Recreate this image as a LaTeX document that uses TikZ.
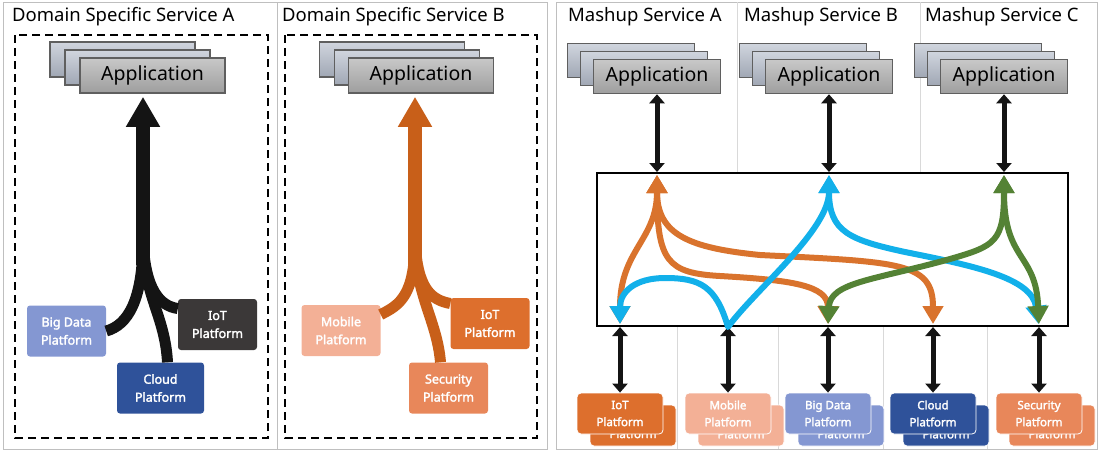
\documentclass[tikz,border=0pt]{standalone}
\usepackage{fontspec}
\setmainfont{Noto Sans}
\newfontfamily\platfont{Noto Sans}[FakeBold=2.2]
\usetikzlibrary{arrows.meta}
\usetikzlibrary{calc}
\definecolor{panelgray}{RGB}{191,191,191}
\definecolor{divgray}{RGB}{217,217,217}
\definecolor{appfronttop}{RGB}{200,200,200}
\definecolor{appfrontbot}{RGB}{158,158,158}
\definecolor{appbacktop}{RGB}{208,213,222}
\definecolor{appbackbot}{RGB}{160,167,180}
\definecolor{appedge}{RGB}{95,95,95}
\definecolor{bigdata}{RGB}{132,151,210}
\definecolor{iotdark}{RGB}{59,56,56}
\definecolor{cloud}{RGB}{47,82,154}
\definecolor{mobile}{RGB}{243,176,150}
\definecolor{iotorange}{RGB}{221,111,45}
\definecolor{security}{RGB}{232,135,90}
\definecolor{flowblack}{RGB}{20,20,20}
\definecolor{floworange}{RGB}{200,95,25}
\definecolor{lineorange}{RGB}{217,115,45}
\definecolor{lineblue}{RGB}{18,176,234}
\definecolor{linegreen}{RGB}{84,130,53}
\tikzstyle{panel} = [draw=panelgray, line width=1pt]
\tikzstyle{divider} = [draw=divgray, line width=1pt]
\tikzstyle{dashbox} = [draw=black, line width=2pt, dash pattern=on 8pt off 5pt]
\tikzstyle{heading} = [anchor=west, inner sep=1pt, font=\fontsize{18.5}{20}\selectfont]
\tikzstyle{appback} = [rectangle, minimum width=145pt, minimum height=35pt, inner sep=0pt, draw=appedge, line width=1.5pt, top color=appbacktop, bottom color=appbackbot]
\tikzstyle{appfront} = [appback, top color=appfronttop, bottom color=appfrontbot, font=\fontsize{19.5}{22}\selectfont]
\tikzstyle{platform} = [rectangle, rounded corners=3pt, minimum width=79pt, minimum height=51pt, inner sep=0pt, text=white, align=center, font=\platfont\fontsize{12.5}{18}\selectfont]
\tikzstyle{tile} = [platform, minimum width=86pt, minimum height=41pt, rounded corners=4pt, draw=white, line width=0.8pt, font=\platfont\fontsize{11.5}{17}\selectfont]
\tikzstyle{hub} = [rectangle, draw=black, line width=2pt, minimum width=471pt, minimum height=153pt, inner sep=0pt]
\tikzstyle{branch} = [line width=11pt]
\tikzstyle{trunk} = [line width=14pt, >={Triangle[length=30pt,width=32pt]}, ->, shorten >=3pt]
\tikzstyle{link} = [line width=5pt, flowblack, >={Triangle[length=9pt,width=15pt]}, <->]
\tikzstyle{route} = [line width=6pt, line join=round, >={Triangle[length=18pt,width=20pt]}, <->, shorten <=3pt, shorten >=3pt]

\begin{document}
\begin{tikzpicture}[x=1pt,y=-1pt]
\useasboundingbox (0,0) rectangle (1100,451);
\draw [panel] (3,2) rectangle (277,449);
\draw [panel] (277,2) rectangle (547,449);
\draw [panel] (556,2) rectangle (1097,449);
\draw [divider] (737,2) -- (737,173);
\draw [divider] (920,2) -- (920,173);
\draw [divider] (677,326) -- (677,449);
\draw [divider] (778,326) -- (778,449);
\draw [divider] (883,326) -- (883,449);
\draw [divider] (987,326) -- (987,449);
\draw [dashbox] (15,35) rectangle (268,438);
\draw [dashbox] (285,35) rectangle (537,438);

\node (titleA) [heading] at (11,17) {Domain Specific Service A};
\node (titleB) [heading] at (281,17) {Domain Specific Service B};
\node (titleMA) [heading] at (567,17) {Mashup Service A};
\node (titleMB) [heading] at (743,17) {Mashup Service B};
\node (titleMC) [heading] at (924,17) {Mashup Service C};

\node (appA3) [appback] at (122.5,59.5) {};
\node (appA2) [appback] at (137.5,67.5) {};
\node (appA1) [appfront] at (152.5,75.5) {Application};
\node (bigA) [platform, fill=bigdata] at (66.5,331) {Big Data\\Platform};
\node (iotA) [platform, fill=iotdark] at (217.5,324.5) {IoT\\Platform};
\node (cloudA) [platform, fill=cloud, minimum width=87pt] at (160.5,388) {Cloud\\Platform};
\coordinate (splitA) at (143,240);
\draw [branch, flowblack] (bigA.east) .. controls (128,325) and (143,300) .. (splitA);
\draw [branch, flowblack] ([xshift=7pt]cloudA.north) .. controls (165,315) and (143,295) .. (splitA);
\draw [branch, flowblack] ([yshift=16pt]iotA.west) .. controls (160,306) and (145,290) .. (splitA);
\draw [trunk, flowblack] ([yshift=-25pt]splitA) -- (appA1.south -| splitA);

\node (appB3) [appback] at (392,59.5) {};
\node (appB2) [appback] at (407,67.5) {};
\node (appB1) [appfront] at (421,75.5) {Application};
\node (mobB) [platform, fill=mobile] at (341,330.5) {Mobile\\Platform};
\node (iotB) [platform, fill=iotorange] at (490,323.5) {IoT\\Platform};
\node (secB) [platform, fill=security] at (448.5,388) {Security\\Platform};
\coordinate (splitB) at (415,240);
\draw [branch, floworange] ([yshift=16pt]mobB.east) .. controls (400,305) and (415,295) .. (splitB);
\draw [branch, floworange] ([xshift=-8pt]secB.north) .. controls (437,320) and (415,295) .. (splitB);
\draw [branch, floworange] ([yshift=20pt]iotB.west) .. controls (432,300) and (417,290) .. (splitB);
\draw [trunk, floworange] ([yshift=-25pt]splitB) -- (appB1.south -| splitB);

\node (mashA3) [appback, minimum width=127pt, minimum height=34pt] at (631,60.5) {};
\node (mashA2) [appback, minimum width=127pt, minimum height=34pt] at (644,68.5) {};
\node (mashA1) [appfront, minimum width=127pt, minimum height=34pt] at (657,76.5) {Application};
\node (mashB3) [appback, minimum width=127pt, minimum height=34pt] at (803,60.5) {};
\node (mashB2) [appback, minimum width=127pt, minimum height=34pt] at (816,68.5) {};
\node (mashB1) [appfront, minimum width=127pt, minimum height=34pt] at (829,76.5) {Application};
\node (mashC3) [appback, minimum width=127pt, minimum height=34pt] at (978,60.5) {};
\node (mashC2) [appback, minimum width=127pt, minimum height=34pt] at (991,68.5) {};
\node (mashC1) [appfront, minimum width=127pt, minimum height=34pt] at (1004,76.5) {Application};

\node (hub) [hub] at (832.5,249.5) {};

\node (iotMb) [tile, fill=iotorange] at (633,425.5) {IoT\\Platform};
\node (iotM) [tile, fill=iotorange] at (620,413.5) {IoT\\Platform};
\node (mobMb) [tile, fill=mobile] at (741,425.5) {Mobile\\Platform};
\node (mobM) [tile, fill=mobile] at (728,413.5) {Mobile\\Platform};
\node (bigMb) [tile, fill=bigdata] at (841,425.5) {Big Data\\Platform};
\node (bigM) [tile, fill=bigdata] at (828,413.5) {Big Data\\Platform};
\node (cloudMb) [tile, fill=cloud] at (946,425.5) {Cloud\\Platform};
\node (cloudM) [tile, fill=cloud] at (933,413.5) {Cloud\\Platform};
\node (secMb) [tile, fill=security] at (1052,425.5) {Security\\Platform};
\node (secM) [tile, fill=security] at (1039,413.5) {Security\\Platform};

\coordinate (pA) at (mashA1.south |- hub.north);
\coordinate (pB) at (mashB1.south |- hub.north);
\coordinate (pC) at (mashC1.south |- hub.north);
\coordinate (qIoT) at (hub.south -| iotM.north);
\coordinate (qMob) at (hub.south -| mobM.north);
\coordinate (qBD) at (hub.south -| bigM.north);
\coordinate (qCl) at (hub.south -| cloudM.north);
\coordinate (qSec) at (hub.south -| secM.north);

\draw [link] (mashA1.south) -- (pA);
\draw [link] (mashB1.south) -- (pB);
\draw [link] (mashC1.south) -- (pC);
\draw [link] (qIoT) -- (iotM.north);
\draw [link] (qMob) -- (mobM.north);
\draw [link] (qBD) -- (bigM.north);
\draw [link] (qCl) -- (cloudM.north);
\draw [link] (qSec) -- (secM.north);

\draw [route, lineorange] (pA) .. controls (657,240) and (620,250) .. (qIoT);
\draw [route, lineorange] (pA) .. controls (657,235) and (690,248) .. (760,255) .. controls (900,262) and (933,262) .. (qCl);
\draw [route, lineorange] (pA) .. controls (657,262) and (668,273) .. (720,276) .. controls (790,280) and (828,285) .. (qBD);
\draw [route, lineblue] (pB) .. controls (829,230) and (755,290) .. (qMob) .. controls (716,286) and (700,278) .. (665,278) .. controls (635,278) and (620,292) .. (qIoT);
\draw [route, lineblue] (pB) .. controls (829,232) and (850,240) .. (905,252) .. controls (975,266) and (1032,278) .. (qSec);
\draw [route, linegreen] (pC) .. controls (1004,242) and (995,246) .. (950,259) .. controls (875,280) and (830,282) .. (qBD);
\draw [route, linegreen] (pC) .. controls (1004,262) and (1036,252) .. (qSec);
\end{tikzpicture}
\end{document}
